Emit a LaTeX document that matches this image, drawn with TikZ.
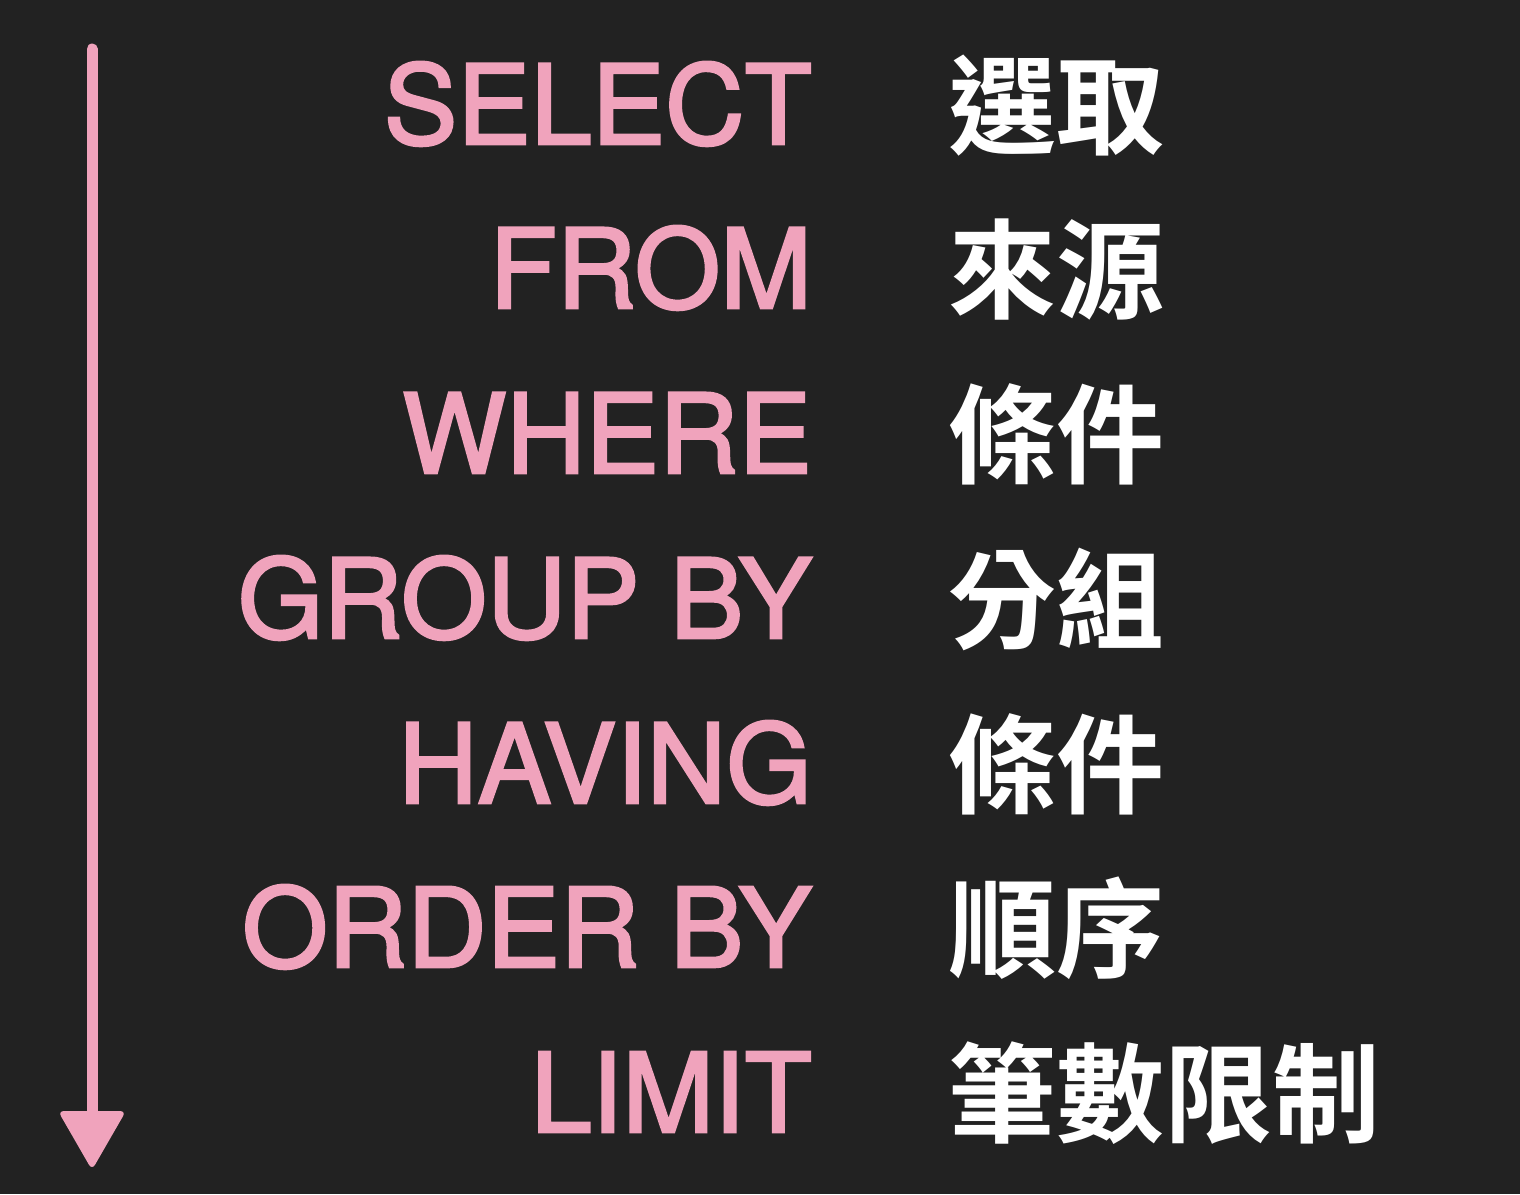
\documentclass[tikz,border=0pt]{standalone}
\usepackage{fontspec}
\setmainfont{TeX Gyre Heros}[FakeBold=2.4]
\newfontfamily\cjk{Noto Sans CJK TC}[BoldFont={Noto Sans CJK TC Bold}]
\definecolor{bg}{HTML}{222222}
\definecolor{pinkc}{HTML}{F0A3BC}
\tikzset{
  kw/.style={anchor=base east, inner sep=0pt, text=pinkc, font=\fontsize{110}{110}\selectfont},
  zh/.style={anchor=base west, inner sep=0pt, text=white, font=\cjk\bfseries\fontsize{108}{108}\selectfont},
}
\begin{document}
\begin{tikzpicture}[x=1pt,y=-1pt]
\fill[bg] (0,0) rectangle (1520,1194);
\useasboundingbox (0,0) rectangle (1520,1194);
% arrow
\coordinate (atop) at (92,49);
\coordinate (abase) at (92,1116);
\coordinate (aleft) at (58,1111);
\coordinate (aright) at (126,1111);
\coordinate (atip) at (92,1170);
\draw[pinkc, line width=11, line cap=round] (atop) -- (abase);
\fill[pinkc, rounded corners=6] (aleft) -- (aright) -- (atip) -- cycle;
% keywords
\node[kw] (k1) at (812,144) {SELECT};
\node[kw] (k2) at (812,308) {FROM};
\node[kw] (k3) at (812,473) {WHERE};
\node[kw] (k4) at (812,638) {GROUP BY};
\node[kw] (k5) at (812,803) {HAVING};
\node[kw] (k6) at (812,967) {ORDER BY};
\node[kw] (k7) at (812,1132) {LIMIT};
% chinese
\node[zh] (z1) at (948,146) {選取};
\node[zh] (z2) at (948,310) {來源};
\node[zh] (z3) at (948,475) {條件};
\node[zh] (z4) at (948,640) {分組};
\node[zh] (z5) at (948,805) {條件};
\node[zh] (z6) at (948,969) {順序};
\node[zh] (z7) at (948,1134) {筆數限制};
\end{tikzpicture}
\end{document}
